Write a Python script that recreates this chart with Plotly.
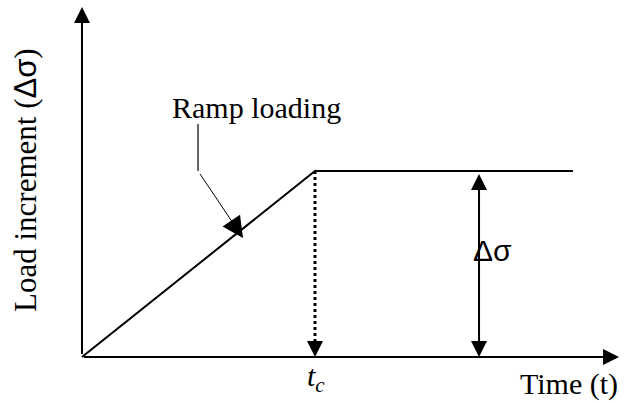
import plotly.graph_objects as go

# Conceptual units: time in units of t_c, load in units of delta-sigma
ramp_time = [0.0, 1.0, 2.107]
ramp_load = [0.0, 1.0, 1.0]

t_c = 1.0
delta_sigma = 1.0
x_axis_end = 2.305
y_axis_end = 1.882
delta_arrow_t = 1.704

leader_x = [0.498, 0.498]
leader_y = [1.253, 1.0]
leader_tip = (0.691, 0.640)

x_range = [-0.3519, 2.3262]
y_range = [-0.2473, 1.9194]

FONT = "Liberation Serif"
SYM = "<span style='font-family:Liberation Sans'>Δσ</span>"
BLACK = "#000000"

fig = go.Figure()

# ramp + constant loading
fig.add_trace(go.Scatter(x=ramp_time, y=ramp_load, mode="lines",
                         line=dict(color=BLACK, width=2), hoverinfo="skip"))
# dotted line at t_c
fig.add_trace(go.Scatter(x=[t_c, t_c], y=[delta_sigma, 0.07], mode="lines",
                         line=dict(color=BLACK, width=3, dash="dot"), hoverinfo="skip"))
# leader vertical part
fig.add_trace(go.Scatter(x=leader_x, y=leader_y, mode="lines",
                         line=dict(color=BLACK, width=1.2), hoverinfo="skip"))

anns = []
arrow_common = dict(xref="x", yref="y", axref="x", ayref="y", showarrow=True,
                    arrowcolor=BLACK, text=" ", font=dict(size=2))
# y axis arrow
anns.append(dict(x=0, y=y_axis_end, ax=0, ay=0, arrowhead=2, arrowsize=1.6, arrowwidth=2,
                 **arrow_common))
# x axis arrow
anns.append(dict(x=x_axis_end, y=0, ax=0, ay=0, arrowhead=2, arrowsize=1.6, arrowwidth=2,
                 **arrow_common))
# dotted arrow head at t_c
anns.append(dict(x=t_c, y=0, ax=t_c, ay=0.09, arrowhead=2, arrowsize=1.6, arrowwidth=2,
                 **arrow_common))
# double-headed delta sigma arrow
anns.append(dict(x=delta_arrow_t, y=0, ax=delta_arrow_t, ay=delta_sigma, arrowhead=2,
                 startarrowhead=2, arrowside="end+start", arrowsize=1.6, startarrowsize=1.6,
                 arrowwidth=2, **arrow_common))
# leader diagonal
anns.append(dict(x=leader_tip[0], y=leader_tip[1], ax=leader_x[1], ay=leader_y[1],
                 arrowhead=2, arrowsize=4.2, arrowwidth=1, **arrow_common))

# texts
anns.append(dict(x=0.751, y=1.339, xref="x", yref="y", text="Ramp loading", showarrow=False,
                 font=dict(family=FONT, size=30, color=BLACK)))
anns.append(dict(x=2.31, y=-0.145, xref="x", yref="y", text="Time (t)", showarrow=False,
                 xanchor="right", font=dict(family=FONT, size=30, color=BLACK)))
anns.append(dict(x=1.004, y=-0.115, xref="x", yref="y", text="<i>t<sub>c</sub></i>",
                 showarrow=False, font=dict(family=FONT, size=30, color=BLACK)))
anns.append(dict(x=1.670, y=0.575, xref="x", yref="y", text=SYM, showarrow=False,
                 xanchor="left", font=dict(family=FONT, size=30, color=BLACK)))
anns.append(dict(x=-0.240, y=0.952, xref="x", yref="y",
                 text="Load increment (" + SYM + ")", showarrow=False,
                 textangle=-90, font=dict(family=FONT, size=31, color=BLACK)))

fig.update_layout(
    width=624, height=403,
    margin=dict(l=0, r=0, t=0, b=0),
    paper_bgcolor="white", plot_bgcolor="white",
    showlegend=False,
    xaxis=dict(range=x_range, visible=False, fixedrange=True),
    yaxis=dict(range=y_range, visible=False, fixedrange=True),
    annotations=anns,
)

fig.write_html("out.html", config={"displayModeBar": False},
               post_script="document.body.style.margin='0';")
